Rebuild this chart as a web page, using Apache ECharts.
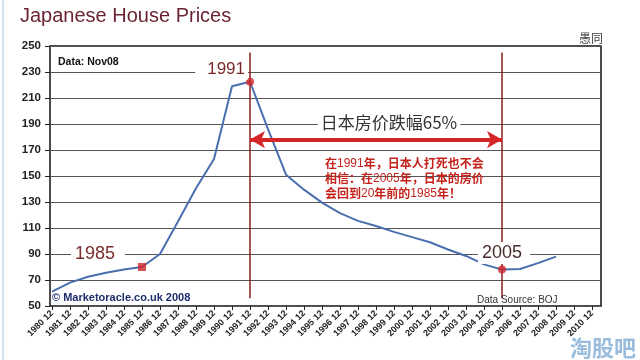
<!DOCTYPE html>
<html>
<head>
<meta charset="utf-8">
<script src="https://cdn.jsdelivr.net/npm/echarts@6/dist/echarts.min.js"></script>
<style>html,body{margin:0;padding:0;background:#fff}#c{width:640px;height:360px}</style>
</head>
<body>
<div id="c"></div>
<script>
// ---- data ----
const categories = ['1980 12','1981 12','1982 12','1983 12','1984 12','1985 12','1986 12','1987 12','1988 12','1989 12',
  '1990 12','1991 12','1992 12','1993 12','1994 12','1995 12','1996 12','1997 12','1998 12','1999 12',
  '2000 12','2001 12','2002 12','2003 12','2004 12','2005 12','2006 12','2007 12','2008 12','2009 12','2010 12'];
const priceIndex = [61, 68, 72.5, 75.5, 78, 80, 90, 115, 140.5, 163, 219, 222.5, 186, 151, 139.5, 129.5,
  121.5, 115.5, 111.5, 107, 103, 99, 93.5, 88.5, 82, 78, 78.5, 83, 88];
const markedYears = ['1985 12', '1991 12', '2005 12'];
const markerShapes = ['rect', 'circle', 'circle'];
const peakYear = '1991 12';
const troughYear = '2005 12';
const arrowLevel = 178;
const verticalRange = [56, 245];
const yTicks = { min: 50, max: 250, step: 20 };

const chart = echarts.init(document.getElementById('c'), null, { renderer: 'canvas' });
const markerData = markedYears.map((y, i) => ({
  value: [y, priceIndex[categories.indexOf(y)]],
  symbol: markerShapes[i]
}));

const cjk = '"Noto Sans CJK SC", sans-serif';
const sans = '"Liberation Sans", Arial, sans-serif';

chart.setOption({
  backgroundColor: '#ffffff',
  animation: false,
  title: {
    text: 'Japanese House Prices', left: 15, top: 1,
    textStyle: { fontFamily: sans, fontSize: 20, fontWeight: 'normal', color: '#6a2433' }
  },
  grid: [
    { left: 52, right: 48, top: 46, bottom: 54, show: false },
    { left: 50, right: 39, top: 46, bottom: 54, show: true, borderColor: '#111', borderWidth: 1.5, backgroundColor: 'transparent' }
  ],
  xAxis: [
    { type: 'category', gridIndex: 0, data: categories, boundaryGap: false,
      axisLine: { show: false },
      axisTick: { show: true, length: 4, lineStyle: { color: '#222' }, interval: 0 },
      axisLabel: { interval: 0, rotate: 45, fontSize: 9, fontWeight: 'bold', fontFamily: sans, color: '#222', margin: 6 },
      splitLine: { show: false } },
    { type: 'value', gridIndex: 1, min: 0, max: 1, show: false }
  ],
  yAxis: [
    { type: 'value', gridIndex: 0, min: yTicks.min, max: yTicks.max, interval: yTicks.step, show: false },
    { type: 'value', gridIndex: 1, min: yTicks.min, max: yTicks.max, interval: yTicks.step,
      axisLine: { show: false },
      axisTick: { show: true, length: 5, lineStyle: { color: '#222' } },
      axisLabel: { fontSize: 11.5, fontWeight: 'bold', fontFamily: sans, color: '#222', margin: 9 },
      splitLine: { show: true, lineStyle: { color: '#555', width: 1.2 } } }
  ],
  series: [
    { type: 'line', xAxisIndex: 0, yAxisIndex: 0, data: priceIndex, showSymbol: false, z: 3,
      lineStyle: { color: '#4a6fae', width: 2 },
      markLine: {
        silent: true, symbol: ['none', 'none'], label: { show: false },
        lineStyle: { color: '#8b1c1c', width: 1.5, type: 'solid' },
        data: [
          [{ coord: [peakYear, verticalRange[0]] }, { coord: [peakYear, verticalRange[1]] }],
          [{ coord: [troughYear, verticalRange[0]] }, { coord: [troughYear, verticalRange[1]] }]
        ]
      } },
    { type: 'line', xAxisIndex: 0, yAxisIndex: 0, data: [], showSymbol: false, z: 4,
      markLine: {
        silent: true, symbol: ['arrow', 'arrow'], symbolSize: [13, 15], label: { show: false },
        lineStyle: { color: '#d42626', width: 4, type: 'solid' },
        data: [[{ coord: [peakYear, arrowLevel] }, { coord: [troughYear, arrowLevel] }]]
      } },
    { type: 'scatter', xAxisIndex: 0, yAxisIndex: 0, data: markerData, symbolSize: 8, z: 5,
      itemStyle: { color: '#d0242a' } }
  ],
  graphic: [
    { type: 'line', z: 1, shape: { x1: 3, y1: 0, x2: 3, y2: 360 }, style: { stroke: '#cfe2f0', lineWidth: 2 } },
    { type: 'text', z: 50, style: { text: 'Data: Nov08', x: 58, y: 62, textVerticalAlign: 'middle',
      font: 'bold 10.5px ' + sans, fill: '#111' } },
    { type: 'text', z: 50, style: { text: '1991', x: 248, y: 69, textAlign: 'right', textVerticalAlign: 'middle',
      font: '17px ' + sans, fill: '#7a2a2a', backgroundColor: '#fff', padding: [2, 3, 2, 12] } },
    { type: 'text', z: 50, style: { text: '1985', x: 98, y: 254, textAlign: 'center', textVerticalAlign: 'middle',
      font: '18px ' + sans, fill: '#7b2c2c', backgroundColor: '#fff', padding: [2, 10, 2, 4] } },
    { type: 'text', z: 50, style: { text: '2005', x: 504, y: 253, textAlign: 'center', textVerticalAlign: 'middle',
      font: '18px ' + sans, fill: '#4a2c2c', backgroundColor: '#fff', padding: [2, 8, 2, 4] } },
    { type: 'text', z: 50, style: { text: '日本房价跌幅65%', x: 389, y: 123, textAlign: 'center', textVerticalAlign: 'middle',
      font: '17px ' + cjk, fill: '#333', backgroundColor: '#fff', padding: [1, 3] } },
    { type: 'text', z: 50, style: {
      text: '{b|在}{n|1991}{b|年，日本人打死也不会}\n{b|相信：在}{n|2005}{b|年，日本的房价}\n{b|会回到}{n|20}{b|年前的}{n|1985}{b|年！}',
      x: 325, y: 156, textVerticalAlign: 'top',
      rich: {
        b: { fontFamily: cjk, fontSize: 12, fontWeight: 'bold', fill: '#c4231c', color: '#c4231c', lineHeight: 15 },
        n: { fontFamily: sans, fontSize: 12, fontWeight: 'normal', fill: '#c4231c', color: '#c4231c', lineHeight: 15 }
      } } },
    { type: 'text', z: 50, style: { text: '© Marketoracle.co.uk 2008', x: 52, y: 298, textVerticalAlign: 'middle',
      font: 'bold 11px ' + sans, fill: '#1e2d6e' } },
    { type: 'text', z: 50, style: { text: 'Data Source: BOJ', x: 477, y: 300, textVerticalAlign: 'middle',
      font: '10px ' + sans, fill: '#333' } },
    { type: 'text', z: 50, style: { text: '愚同', x: 603, y: 38, textAlign: 'right', textVerticalAlign: 'middle',
      font: '12px ' + cjk, fill: '#444' } },
    { type: 'text', z: 50, style: { text: '淘股吧', x: 636, y: 348, textAlign: 'right', textVerticalAlign: 'middle',
      font: 'bold 22px ' + cjk, fill: 'rgba(120,165,210,0.75)' } }
  ]
});
</script>
</body>
</html>
